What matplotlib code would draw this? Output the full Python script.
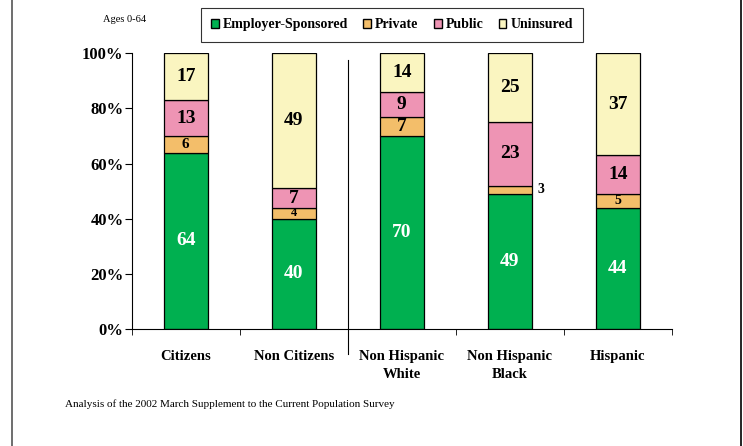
import matplotlib
matplotlib.use('Agg')
import matplotlib.pyplot as plt
from matplotlib.patches import Patch
from matplotlib.lines import Line2D

# data (percent, ages 0-64)
groups = ['Citizens', 'Non Citizens', 'Non Hispanic\nWhite', 'Non Hispanic\nBlack', 'Hispanic']
employer = [64, 40, 70, 49, 44]
private = [6, 4, 7, 3, 5]
public = [13, 7, 9, 23, 14]
uninsured = [17, 49, 14, 25, 37]
series_names = ['Employer-Sponsored', 'Private', 'Public', 'Uninsured']
y_ticks = [0, 20, 40, 60, 80, 100]

colors = ['#00B050', '#F3BE6A', '#EE94B4', '#FAF5C0']
serif = 'Liberation Serif'

fig = plt.figure(figsize=(7.43, 4.46), dpi=100)
ax = fig.add_axes([0.1773, 0.2623, 0.7271, 0.6182])

x = list(range(len(groups)))
width = 0.41
bottoms = [0] * len(groups)
all_series = [employer, private, public, uninsured]
for name, vals, col in zip(series_names, all_series, colors):
    ax.bar(x, vals, width, bottom=bottoms, color=col, edgecolor='black', linewidth=0.9, label=name, zorder=2)
    for i, v in enumerate(vals):
        mid = bottoms[i] + v / 2
        if name == 'Employer-Sponsored':
            ax.text(i, mid, str(v), ha='center', va='center', color='white', fontsize=14,
                    fontweight='bold', family=serif)
        elif v <= 3:
            # too thin, label goes beside the bar
            ax.text(i + width / 2 + 0.05, mid, str(v), ha='left', va='center', fontsize=10,
                    fontweight='bold', family=serif)
        elif v <= 6:
            ax.text(i, mid, str(v), ha='center', va='center', fontsize=9 + (v - 4) * 1,
                    fontweight='bold', family=serif)
        else:
            ax.text(i, mid, str(v), ha='center', va='center', fontsize=14,
                    fontweight='bold', family=serif)
    bottoms = [b + v for b, v in zip(bottoms, vals)]

ax.set_xlim(-0.5, len(groups) - 0.5)
ax.set_ylim(0, 100)
ax.set_yticks(y_ticks)
ax.set_yticklabels([f'{t}%' for t in y_ticks], fontsize=12, fontweight='bold', family=serif)
ax.set_xticks(x)
ax.set_xticklabels(groups, fontsize=10.5, fontweight='bold', family=serif, linespacing=1.5)
ax.tick_params(axis='x', which='major', length=0, pad=15)
ax.set_xticks([i - 0.5 for i in range(len(groups) + 1)], minor=True)
ax.tick_params(axis='x', which='minor', length=4, direction='out')
ax.tick_params(axis='y', length=5, direction='out', pad=1)
ax.spines['top'].set_visible(False)
ax.spines['right'].set_visible(False)

# divider between the citizenship and race groups
ax.axvline(1.5, ymin=-0.09, ymax=0.976, color='black', linewidth=0.8, clip_on=False)

leg = fig.legend(handles=[Patch(facecolor=c, edgecolor='black', label=n) for n, c in zip(series_names, colors)],
                 loc='center', bbox_to_anchor=(0.5276, 0.944), ncol=4, frameon=True, fancybox=False,
                 prop={'family': serif, 'weight': 'bold', 'size': 10}, handlelength=0.55, handleheight=0.6,
                 handletextpad=0.3, columnspacing=1.1, borderpad=0.75)
leg.get_frame().set_edgecolor('black')
leg.get_frame().set_linewidth(0.8)

fig.text(0.139, 0.957, 'Ages 0-64', fontsize=7.5, family=serif, va='center')
fig.text(0.087, 0.094, 'Analysis of the 2002 March Supplement to the Current Population Survey',
         fontsize=8, family=serif, va='center')

# page borders
fig.add_artist(Line2D([0.0155, 0.0155], [0, 1], color='#555555', linewidth=1.2))
fig.add_artist(Line2D([0.997, 0.997], [0, 1], color='black', linewidth=1.2))

fig.savefig('out.png', dpi=100)
